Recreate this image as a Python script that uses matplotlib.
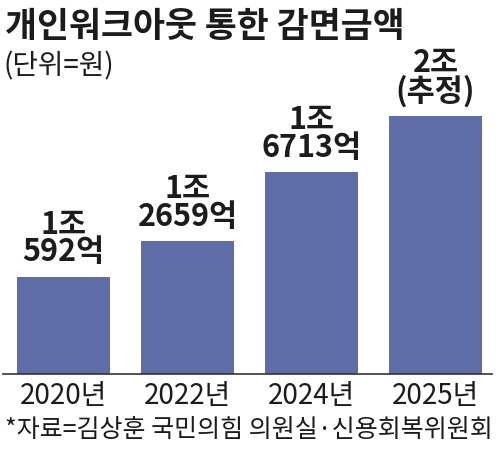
import matplotlib.pyplot as plt

plt.rcParams['font.family'] = ['Noto Sans CJK KR', 'DejaVu Sans']

years = ["2020년", "2022년", "2024년", "2025년"]
amounts = [10592, 12659, 16713, 20000]  # 단위: 억원
bar_labels = ["1조\n592억", "1조\n2659억", "1조\n6713억", "2조\n(추정)"]

BAR_COLOR = "#5e6ca8"
TEXT_COLOR = "#1c1c1c"

fig = plt.figure(figsize=(5.0, 4.54), dpi=100)
fig.patch.set_facecolor("white")

# axes: left 3px, right 492px, baseline at 374px from top
ax = fig.add_axes([3 / 500, (454 - 374) / 454, (492 - 3) / 500, (374 - 60) / 454])
x = list(range(len(years)))
bars = ax.bar(x, amounts, width=0.75, color=BAR_COLOR, zorder=2)
ax.set_xlim(-0.488, 3.456)
ax.set_ylim(4900, 23250)

for rect, lab in zip(bars, bar_labels):
    ax.annotate(lab, (rect.get_x() + rect.get_width() / 2, rect.get_height()),
                xytext=(0, 6), textcoords="offset points", ha="center", va="bottom",
                fontsize=22, fontweight="bold", color=TEXT_COLOR, linespacing=0.82)

ax.set_xticks(x)
ax.set_xticklabels(years, fontsize=20, color=TEXT_COLOR)
ax.tick_params(axis="x", length=0, pad=5)
ax.set_yticks([])
for side in ["top", "right", "left"]:
    ax.spines[side].set_visible(False)
ax.spines["bottom"].set_color("#333333")
ax.spines["bottom"].set_linewidth(1.2)

fig.text(5 / 500, 1 - 27 / 454, "개인워크아웃 통한 감면금액", fontsize=25, fontweight="bold",
         color=TEXT_COLOR, ha="left", va="center")
fig.text(4 / 500, 1 - 66 / 454, "(단위=원)", fontsize=20, color=TEXT_COLOR, ha="left", va="center")
fig.text(5 / 500, 1 - 430 / 454, "*자료=김상훈 국민의힘 의원실·신용회복위원회", fontsize=18,
         color=TEXT_COLOR, ha="left", va="center")

fig.savefig("out.png", dpi=100)
